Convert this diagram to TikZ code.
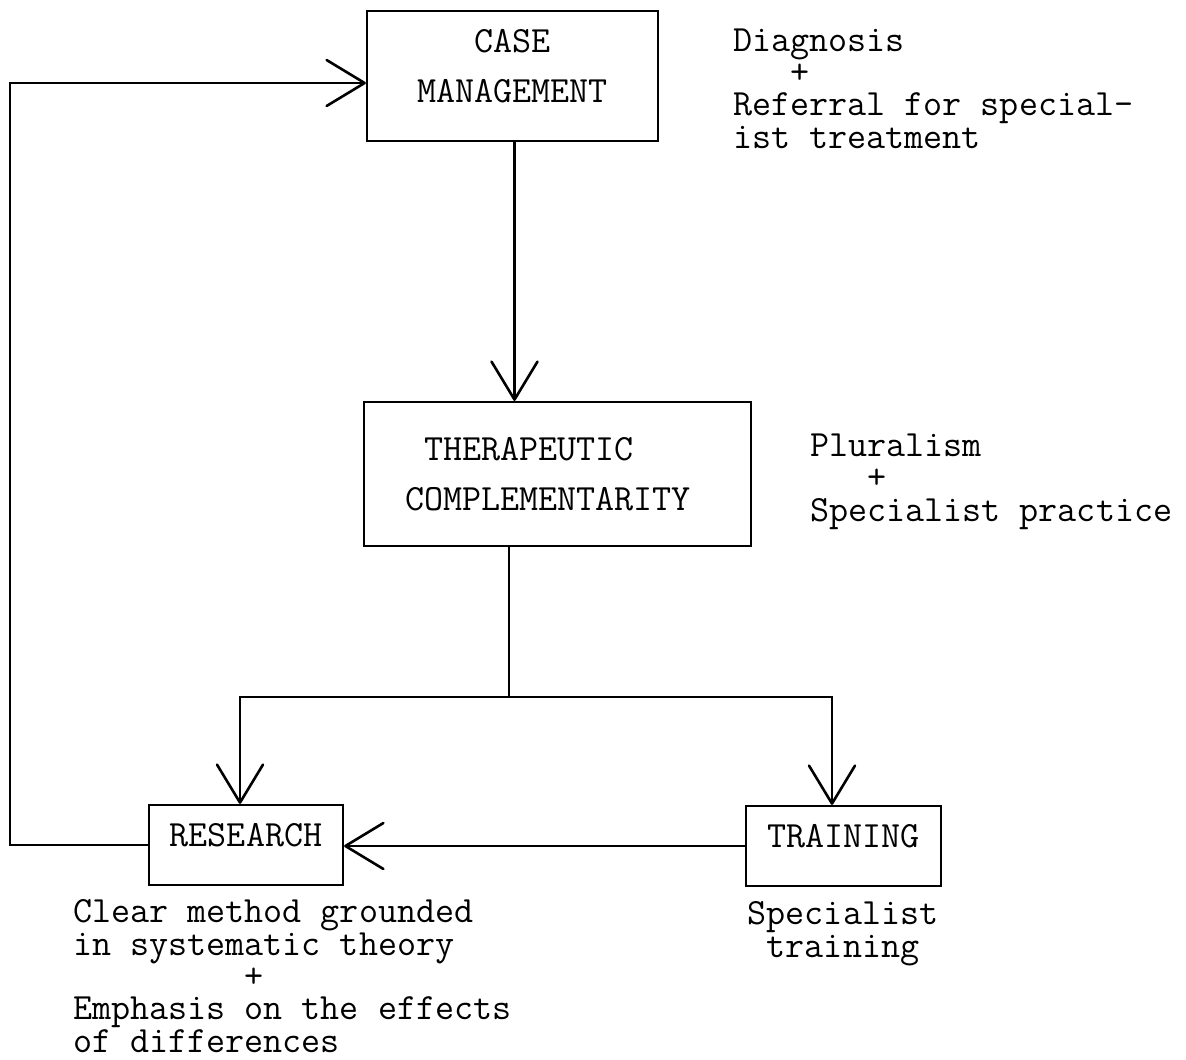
\documentclass[tikz,border=0pt]{standalone}
\usepackage{tikz}
\usetikzlibrary{arrows.meta}
\tikzset{x=1pt, y=-1pt,
  box/.style={draw, line width=2.2pt, inner sep=0pt, align=center,
    font=\fontsize{37}{50}\selectfont\ttfamily},
  note/.style={align=left, inner sep=0pt,
    font=\fontsize{37}{32.3}\selectfont\ttfamily},
  arr/.style={line width=2.2pt, -{Straight Barb[length=38pt,width=46pt,line width=2.6pt,round]}},
  link/.style={line width=2.2pt}}
\newcommand{\boxfoot}{\rule[-20pt]{0pt}{0pt}}

\begin{document}
\begin{tikzpicture}
                \useasboundingbox (0,0) rectangle (1186,1060);
                \node (cm) [box, minimum width=291pt, minimum height=130pt] at (512.5,76) {CASE\\MANAGEMENT\boxfoot};
                \node (tc) [box, minimum width=387pt, minimum height=144pt] at (557.5,474) {THERAPEUTIC\phantom{XXX}\\COMPLEMENTARITY\phantom{X}};
                \node (rs) [box, minimum width=194pt, minimum height=80pt] at (246,845) {RESEARCH\boxfoot};
                \node (tr) [box, minimum width=195pt, minimum height=80pt] at (843.5,846) {TRAINING\boxfoot};
                \node (cmnote) [note, anchor=base west] at (733,148) {Diagnosis\\\phantom{Dia}+\\Referral for special-\\ist treatment};
                \node (tcnote) [note, anchor=base west] at (810,521) {Pluralism\\\phantom{Plu}+\\Specialist practice};
                \node (rsnote) [note, anchor=base west] at (73,1052) {Clear method grounded\\in systematic theory\\\phantom{Clear met}+\\Emphasis on the effects\\of differences};
                \node (trnote) [note, align=center, anchor=base] at (843,957) {Specialist\\training};
                \coordinate (split) at (509,697);
                \coordinate (brL) at (240,697);
                \coordinate (brR) at (832,697);
                \coordinate (loop) at (10,83);
                \draw[arr] ([xshift=2pt]cm.south) -- ([xshift=2pt]cm.south |- tc.north);
                \draw[link] (tc.south -| split) -- (split);
                \draw[arr] (split) -- (brL) -- (brL |- rs.north);
                \draw[arr] (split) -- (brR) -- (brR |- tr.north);
                \draw[arr] (tr.west) -- (tr.west -| rs.east);
                \draw[arr] (rs.west) -| (loop) -- (loop -| cm.west);
              \end{tikzpicture}
\end{document}
